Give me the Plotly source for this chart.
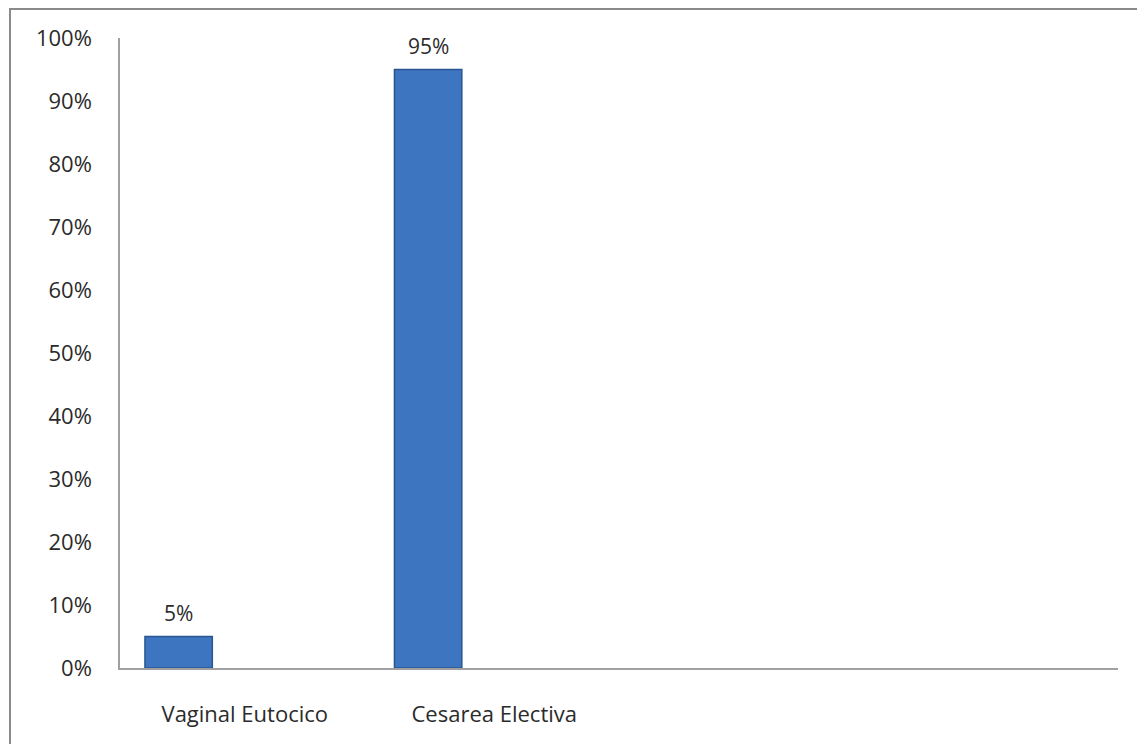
import plotly.graph_objects as go

categories = ["Vaginal Eutocico", "Cesarea Electiva"]
values = [0.05, 0.95]
labels = ["5%", "95%"]
ytick_vals = [0, 0.1, 0.2, 0.3, 0.4, 0.5, 0.6, 0.7, 0.8, 0.9, 1.0]
ytick_text = ["0%", "10%", "20%", "30%", "40%", "50%", "60%", "70%", "80%", "90%", "100%"]

FONT = "Open Sans"
TXT = "#2b2b2b"

fig = go.Figure()
fig.add_trace(go.Bar(
    x=categories, y=values,
    offset=-0.40, width=0.27,
    marker=dict(color="#3D75C1", line=dict(color="#2A568F", width=1.5)),
    hoverinfo="skip",
))
for c, v, t in zip(categories, values, labels):
    fig.add_annotation(x=c, y=v, text=t, showarrow=False, xshift=-0.265 * 249.5,
                       yshift=24, font=dict(family=FONT, size=21, color=TXT))

L, R, T, B = 120, 1137 - 1118, 38, 744 - 668
pw, ph = 1137 - L - R, 744 - T - B
fig.add_shape(type="rect", xref="paper", yref="paper",
              x0=(10 - L) / pw, x1=(1150 - L) / pw,
              y0=(668 - 760) / ph, y1=(668 - 9) / ph,
              line=dict(color="#8a8a8a", width=2), fillcolor="rgba(0,0,0,0)", layer="below")

fig.update_layout(
    width=1137, height=744,
    margin=dict(l=L, r=R, t=T, b=B),
    paper_bgcolor="white", plot_bgcolor="white",
    showlegend=False,
    font=dict(family=FONT, color=TXT, size=21),
    xaxis=dict(type="category", range=[-0.5, 3.5], showgrid=False, showline=True,
               linecolor="#a0a0a0", linewidth=2, ticks="", ticklabelstandoff=26,
               tickfont=dict(family=FONT, size=22, color=TXT), zeroline=False, fixedrange=True),
    yaxis=dict(range=[0, 1.0], tickvals=ytick_vals, ticktext=ytick_text, showgrid=False,
               showline=True, linecolor="#a0a0a0", linewidth=1.5, ticks="",
               ticklabelstandoff=22, zeroline=False,
               tickfont=dict(family=FONT, size=22, color=TXT), fixedrange=True),
)

fig.write_html("out.html")
